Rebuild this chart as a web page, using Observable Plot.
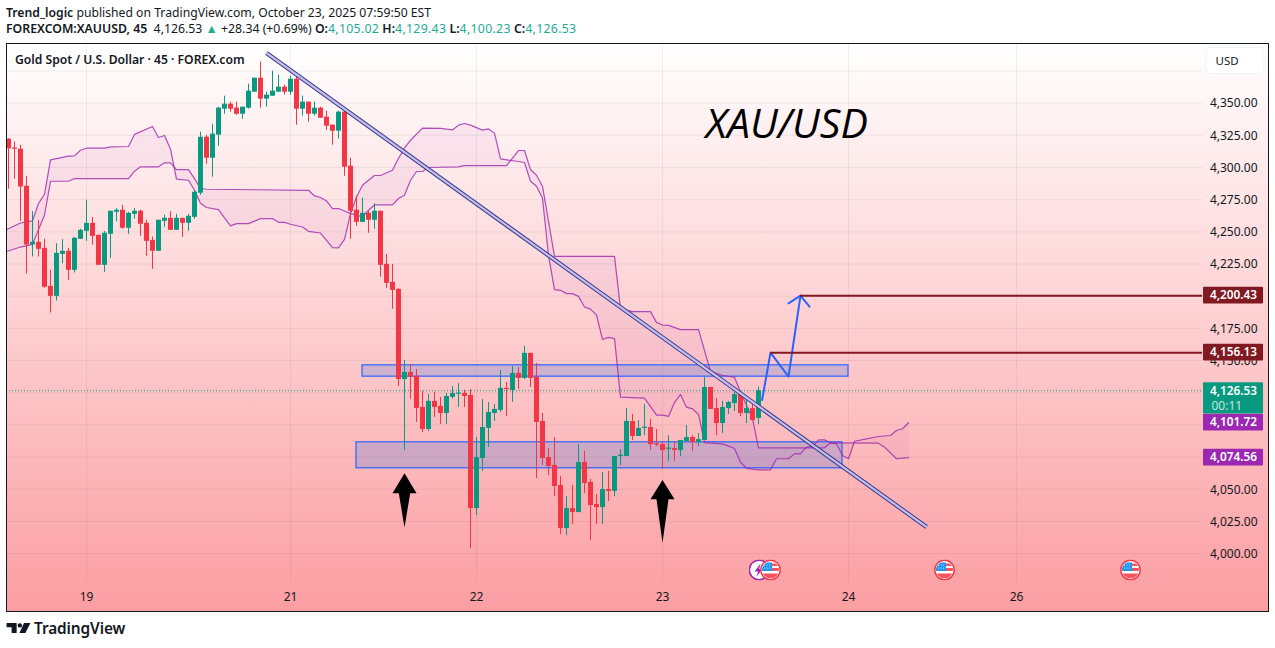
<!DOCTYPE html>
<html><head><meta charset="utf-8">
<script src="https://cdn.jsdelivr.net/npm/d3@7"></script>
<script src="https://cdn.jsdelivr.net/npm/@observablehq/plot@0.6"></script>
<style>
html,body{margin:0;padding:0;background:#fff;width:1275px;height:648px;overflow:hidden;font-family:"Noto Sans",sans-serif;color:#131722}
#head{height:43px;position:relative}
#head div{position:absolute;left:6px;white-space:nowrap;line-height:16px}
#l1{top:5px;font-size:12.2px}#l2{top:21px;font-size:12.3px}
#head b{font-weight:600}
#head .g{color:#22ab94;letter-spacing:.3px}
#head .t{color:#22ab94}
#chart svg{display:block}
#foot{position:absolute;left:6px;top:619px;display:flex;align-items:center;height:18px;font-size:15.4px;font-weight:600;letter-spacing:-.1px}
#foot svg{margin-right:3px}
</style></head><body>
<div id="head">
<div id="l1"><b>Trend_logic</b> published on TradingView.com, October 23, 2025 07:59:50 EST</div>
<div id="l2"><b>FOREXCOM:XAUUSD, 45</b>&nbsp; 4,126.53 <span class="t">▲</span> +28.34 (+0.69%) <b>O:</b><span class="g">4,105.02</span> <b>H:</b><span class="g">4,129.43</span> <b>L:</b><span class="g">4,100.23</span> <b>C:</b><span class="g">4,126.53</span></div>
</div>
<div id="chart"></div>
<div id="foot"><svg width="25" height="11" viewBox="0 0 26 12"><path fill="#131722" d="M0 0H11V11H5.5V4.5H0Z"/><circle cx="14.5" cy="2.6" r="2.4" fill="#131722"/><path fill="#131722" d="M19 0H26L20.5 11H14Z"/></svg>TradingView</div>
<script>
const opens=[4322,4315.2,4314.2,4285.4,4239.8,4241.9,4237.2,4207.6,4199.9,4232.5,
4234.9,4220.1,4244.2,4250.4,4256.6,4247.3,4224,4248.1,4265.2,4266.8,
4252.8,4263.6,4266,4256.6,4243.4,4234.9,4258.2,4260.5,4251.2,4260.5,
4256.6,4261.3,4280,4323.5,4307.2,4325.1,4345.3,4349.2,4346.1,4341.4,
4346.1,4358.5,4369.4,4353.1,4355.4,4358.5,4362.4,4358.5,4368.6,4345.3,
4350.8,4341.4,4346.1,4339.1,4332.9,4328.2,4343,4301,4266.8,4257.4,
4264.4,4259,4266,4224.8,4210.8,4205.3,4135.3,4140.8,4137.7,4113.6,
4096.5,4118.3,4114.4,4108.9,4121.4,4123.8,4124.5,4122.9,4035,4073.9,
4097.3,4108.9,4111.3,4128.4,4126.8,4140,4136.1,4155.6,4136.9,4102.7,
4074.7,4068.5,4052.9,4019.5,4035,4031.9,4070.8,4055.3,4038.1,4035.8,
4049.8,4048.3,4075.5,4075.5,4102.6,4091,4097.2,4098,4085.3,4084.7,
4081,4081.6,4080.1,4087.1,4090.2,4086.3,4087.9,4129.1,4112.7,4101.1,
4112.7,4116.6,4124.2,4108.9,4112.7,4105.02];
const closes=[4314.5,4314.2,4284.9,4239.8,4241.9,4236.4,4206.9,4199.9,4233.3,4234.9,
4220.1,4245,4251.2,4256.6,4246.5,4224,4248.9,4266,4266.8,4252.8,
4264.4,4266,4255.9,4242.6,4234.9,4259,4260.5,4251.2,4260.5,4256.6,
4262.1,4280.8,4323.5,4307.2,4325.9,4346.1,4349.2,4345.3,4341.4,4346.9,
4359.3,4369.4,4353.1,4356.2,4359.3,4362.4,4358.5,4368.6,4345.3,4350.8,
4341.4,4346.1,4338.3,4332.1,4328.2,4343,4300.2,4266,4257.4,4264.4,
4259,4266,4224,4210,4204.5,4135.3,4140.8,4136.9,4112.8,4096.5,
4118.3,4113.6,4108.9,4122.1,4124.5,4124.8,4122.1,4035,4074.7,4098,
4109.7,4112,4128.4,4127.4,4140,4136.1,4155.6,4136.1,4101.9,4073.9,
4067.7,4052.1,4019.5,4035,4031.9,4070.8,4054.5,4037.4,4035.8,4049.8,
4048.3,4075.5,4076.5,4102.7,4091,4097.2,4098.2,4084.7,4084.3,4080.1,
4082,4080.1,4087.9,4090.2,4086.3,4088.6,4129.1,4112,4101.1,4113.5,
4117.4,4123.6,4108.9,4112.7,4103.4,4126.53];
const highs=[4322.5,4319.9,4317.3,4293.2,4265.7,4258.7,4244.2,4220.1,4240.8,4243.9,
4237.2,4245.5,4252,4274.5,4261.1,4247.3,4250.2,4266,4268.1,4270.6,
4265.2,4268.1,4266.8,4259,4245.8,4259,4262.9,4265.7,4263.6,4260.5,
4263.6,4282.3,4327.4,4325.1,4333.6,4346.9,4355.4,4350.8,4350.8,4346.9,
4364.8,4369.4,4381.9,4358.5,4374.9,4371.8,4364,4371,4372.5,4355.4,
4350.8,4350.8,4346.9,4343.8,4332.9,4343.8,4343.8,4307.2,4277.6,4276.1,
4266,4271.9,4266,4232.5,4224.8,4205.8,4150.1,4147,4143.1,4126,
4123.7,4125.3,4121.4,4124.5,4129.9,4132.2,4126.8,4127.6,4090.2,4119.8,
4117.5,4115.9,4142.4,4133,4145.5,4144.7,4161,4155.6,4147.8,4108.9,
4081.7,4090.2,4059.9,4044.3,4052.9,4084.8,4079.4,4057.6,4045.9,4063,
4063.8,4075.5,4080.9,4112.8,4108.1,4103.4,4115.9,4104.2,4096.4,4087.1,
4091.7,4086.3,4087.9,4099.5,4091.7,4093.3,4136.9,4129.1,4120.5,4118.2,
4118.2,4125.2,4125.2,4120.5,4116.6,4129.43];
const lows=[4283.1,4290.9,4258.2,4217.2,4230.5,4230.5,4206.3,4186.9,4196.2,4225.3,
4212.3,4218,4244.2,4242.6,4239.5,4224,4218.5,4229.4,4257.9,4252,
4248.1,4259.8,4246.5,4231,4220.9,4234.9,4253.5,4251.2,4251.2,4245.8,
4250.4,4259.8,4278.4,4302.5,4292.4,4316.5,4341.4,4343,4340.6,4337.5,
4345.3,4358.5,4346.1,4346.9,4355.4,4358.5,4356.2,4356.2,4332.9,4339.9,
4335.2,4339.9,4338.3,4329,4317.3,4322,4293.2,4244.2,4254.3,4257.4,
4248.9,4252,4214.6,4206.1,4189.8,4129.9,4080.1,4119.8,4101.9,4094.1,
4094.9,4105.8,4100.4,4100.4,4119.8,4113.6,4113.6,4003.9,4029.6,4063.8,
4082.5,4102.7,4109.7,4106.6,4117.5,4127.6,4135.3,4129.1,4058.4,4068.5,
4060.7,4044.3,4014.8,4014,4022.6,4031.9,4046.7,4010.1,4022.6,4022.6,
4040.5,4044.3,4068.5,4075.5,4087.9,4091,4091.7,4080.1,4083.2,4065.3,
4071.5,4071.5,4075.4,4087.1,4079.3,4083.2,4087.9,4112,4091.7,4093.3,
4108.1,4110.4,4106.5,4101.1,4103.4,4100.23];

const spanAIdx=[-0.2,2,4,5,6,7,10,11,12,13,16,17,20,21,24,25,26,27,28,30,31,32,33,35,36,37,38,40,42,44,45,46,47,49,50,52,53,54,55,56,57,58,59,60,61,62,64,65,66,67,69,72,74,75,76,77,79,80,81,82,86,87,88,89,90,91,92,93,94,95,96,97,98,99,100,101,102,106,108,109,110,111,112,113,114,115,116,119,121,122,123,125,127,128,130,131,132,133,134,135,136,137,138,145,146,148,150];
const spanAVal=[4252,4256.9,4258.5,4272,4279.2,4305.9,4308.8,4309,4313.4,4315,4315,4316,4316.3,4325.7,4331.9,4323.3,4324.9,4314.2,4290.9,4290.1,4282.3,4272.2,4268.9,4267.3,4260.8,4254.6,4256.4,4256.4,4260.3,4260.3,4257.4,4257.4,4255.9,4253.8,4250.4,4249.1,4243.4,4237.8,4237.5,4244.2,4264.2,4277.1,4286.2,4290.1,4293.8,4293.8,4297.9,4307.2,4315,4321.2,4330.6,4330.4,4329.2,4332.9,4334.2,4332.9,4329,4330,4326.7,4306.7,4303.9,4289.3,4285.4,4276.1,4231.8,4205.1,4204.6,4202,4202,4199.9,4191.6,4190,4185.3,4166.4,4168,4167,4121.6,4120.8,4107.6,4107.6,4106.6,4117.4,4123.7,4113.8,4112.5,4108.1,4086.3,4085.3,4081.7,4071,4066.3,4065.1,4065.1,4073.7,4073.7,4077.5,4077.5,4082.7,4083.2,4088.4,4088.4,4086.1,4086.1,4085.8,4082.7,4073.7,4074.56];
const spanBIdx=[-0.2,2,4,6,7,10,11,20,21,22,25,26,27,28,30,31,32,33,50,51,52,53,54,55,56,57,59,60,61,64,65,66,67,68,69,70,75,76,83,85,86,87,88,89,91,101,102,104,107,108,109,110,112,115,117,119,121,122,124,125,136,137,138,139,140,141,143,145,147,148,149,150];
const spanBVal=[4234.9,4238.2,4240.3,4262.9,4289.3,4289.3,4291.4,4291.4,4297.1,4300.5,4300.5,4303.6,4303.6,4298.4,4298.4,4291.4,4283.7,4283.1,4282.3,4277.9,4276.7,4274,4268.1,4268.1,4266.2,4264.2,4261.6,4266.8,4270.9,4270.9,4275.9,4278.4,4290.1,4296.9,4296.9,4300,4300.5,4301.5,4301.5,4313.2,4313.2,4298.4,4294,4285.4,4231,4231,4190.3,4188,4188,4179.7,4177.6,4177.3,4174,4174,4141.6,4138.4,4137.1,4125.5,4105,4082.2,4082.2,4086.1,4085.3,4076.2,4073.7,4087.3,4089.2,4091,4091.8,4095.7,4097,4101.72];

const trendIdx=[43,153], trendVal=[4389,4020.7];
const zoneIdx=[[59,140],[58,139]], zoneVal=[[4146.3,4137.5],[4086.5,4066.3]];
const pathIdx=[125.6,127,130,132], pathVal=[4119.4,4156.13,4137.5,4200.43];
const headIdx=[130,132,133.5], headVal=[4194.5,4200.43,4191.9];
const arrowIdx1=[66,68,66.95,66,65.05,64], arrowVal1=[4062.4,4046.9,4046.9,4020.4,4046.9,4046.9];
const arrowIdx2=[109,111,110,109,108,107], arrowVal2=[4057.2,4042.2,4042.2,4008.5,4042.2,4042.2];
const levelVals=[4200.43,4156.13], levelStarts=[132,127];
const gridPrices=[4000,4025,4050,4075,4100,4125,4150,4175,4200,4225,4250,4275,4300,4325,4350,4375];
const tickPrices=[4000,4025,4050,4150,4175,4225,4250,4275,4300,4325,4350];
const dateIdx=[13,47,78,109,140,168], dateLabels=["19","21","22","23","24","26"];
const flagIdx=[127,156,187], eventVal=3987.3, ecbIdx=[125.1];
const lastPrice=4126.53;
const tagVals=[4200.43,4156.13,4101.72,4074.56], tagFills=["#801922","#801922","#9c27b0","#9c27b0"];

const GREEN="#089981", RED="#f23645", PURPLE="#9c27b0";
const pts=(xs,ys)=>xs.map((x,i)=>({x,y:ys[i]}));
const bars=opens.map((o,i)=>({i,o,c:closes[i],h:highs[i],l:lows[i],col:closes[i]>=o?GREEN:RED}));
const cloud=[...pts(spanAIdx,spanAVal),...pts(spanBIdx,spanBVal).reverse()];
const fmt=d3.format(",.2f");
const xLeft=-1/3, xGridEnd=199, tagL=199.17, tagR=209.17, tagMid=204.17;

const flagSvg=`<svg xmlns="http://www.w3.org/2000/svg" width="42" height="42" viewBox="0 0 42 42"><defs><clipPath id="c"><circle cx="21" cy="21" r="17"/></clipPath></defs><circle cx="21" cy="21" r="19.5" fill="#fff" stroke="#f23645" stroke-width="3"/><g clip-path="url(#c)"><rect x="4" y="4" width="34" height="34" fill="#fff"/><rect x="4" y="17" width="34" height="6" fill="#f7525f"/><rect x="4" y="28" width="34" height="10" fill="#f7525f"/><rect x="22" y="8" width="16" height="5" fill="#f7525f"/><rect x="4" y="6" width="20" height="17" fill="#2196f3"/><g fill="#fff"><circle cx="9" cy="11" r="1"/><circle cx="14" cy="11" r="1"/><circle cx="19" cy="11" r="1"/><circle cx="9" cy="17" r="1"/><circle cx="14" cy="17" r="1"/><circle cx="19" cy="17" r="1"/></g></g></svg>`;
const flagUri="data:image/svg+xml,"+encodeURIComponent(flagSvg);
const ecbSvg=`<svg xmlns="http://www.w3.org/2000/svg" width="42" height="42" viewBox="0 0 42 42"><circle cx="21" cy="21" r="19.5" fill="#fff" stroke="#9c27b0" stroke-width="3"/><path fill="#9c27b0" d="M24 8L12 24h7l-3 10 12-15h-7z"/></svg>`;
const ecbUri="data:image/svg+xml,"+encodeURIComponent(ecbSvg);

const chart=Plot.plot({
  width:1275,height:569,
  marginLeft:6,marginRight:7,marginTop:0,marginBottom:1,
  x:{domain:[xLeft,210]},
  y:{domain:[3955.04,4396.34]},
  style:{background:"transparent",fontFamily:'"Noto Sans",sans-serif'},
  marks:[
    ()=>d3.create("svg:defs").html('<linearGradient id="bg" x1="0" y1="0" x2="0" y2="1"><stop offset="0" stop-color="#ffffff"/><stop offset="1" stop-color="#fb9ea2"/></linearGradient>').node(),
    Plot.frame({fill:"url(#bg)",stroke:"none"}),
    Plot.ruleY(gridPrices,{x1:xLeft,x2:xGridEnd,stroke:"#2a2e39",strokeOpacity:.07}),
    Plot.ruleX(dateIdx,{y1:3978,y2:4396.34,stroke:"#2a2e39",strokeOpacity:.07}),
    Plot.axisX(dateIdx,{anchor:"bottom",tickSize:0,tickPadding:0,lineAnchor:"middle",dy:-14.5,fontSize:12,fill:"#131722",label:null,tickFormat:d=>dateLabels[dateIdx.indexOf(d)]}),
    Plot.axisY(tickPrices,{anchor:"right",tickSize:0,tickPadding:0,textAnchor:"end",dx:-11,dy:0.5,fontSize:12,fill:"#131722",label:null,tickFormat:fmt}),
    Plot.line(cloud,{x:"x",y:"y",fill:PURPLE,fillOpacity:.055,stroke:"none"}),
    Plot.rect(zoneIdx.map((z,i)=>({x1:z[0],x2:z[1],y1:zoneVal[i][0],y2:zoneVal[i][1]})),{x1:"x1",x2:"x2",y1:"y1",y2:"y2",fill:"#5f7fd8",fillOpacity:.3,stroke:"#2962ff",strokeWidth:1.2}),
    Plot.line(pts(spanAIdx,spanAVal),{x:"x",y:"y",stroke:PURPLE,strokeOpacity:.8,strokeWidth:1.2}),
    Plot.line(pts(spanBIdx,spanBVal),{x:"x",y:"y",stroke:PURPLE,strokeOpacity:.8,strokeWidth:1.2}),
    Plot.ruleY([lastPrice],{x1:xLeft,x2:xGridEnd,stroke:GREEN,strokeDasharray:"1,2"}),
    Plot.ruleX(bars,{x:"i",y1:"l",y2:"h",stroke:"col",strokeWidth:1}),
    Plot.ruleX(bars,{x:"i",y1:"o",y2:"c",stroke:"col",strokeWidth:5}),
    Plot.line(pts(trendIdx,trendVal),{x:"x",y:"y",stroke:"#33318a",strokeWidth:4.2,strokeLinecap:"butt"}),
    Plot.line(pts(trendIdx,trendVal),{x:"x",y:"y",stroke:"#c4bfe8",strokeWidth:2.3,strokeLinecap:"butt"}),
    Plot.line(pts(pathIdx,pathVal),{x:"x",y:"y",stroke:"#2962ff",strokeWidth:2}),
    Plot.line(pts(headIdx,headVal),{x:"x",y:"y",stroke:"#2962ff",strokeWidth:2}),
    Plot.line(pts(arrowIdx1,arrowVal1),{x:"x",y:"y",fill:"#000",stroke:"none"}),
    Plot.line(pts(arrowIdx2,arrowVal2),{x:"x",y:"y",fill:"#000",stroke:"none"}),
    Plot.ruleY(levelVals,{x1:(d,i)=>levelStarts[i],x2:xGridEnd,stroke:"#801922",strokeWidth:2}),
    Plot.image(ecbIdx,{x:d=>d,y:()=>eventVal,src:()=>ecbUri,width:21,height:21}),
    Plot.image(flagIdx,{x:d=>d,y:()=>eventVal,src:()=>flagUri,width:21,height:21}),
    Plot.rect(tagVals,{x1:()=>tagL,x2:()=>tagR,y1:d=>d+6.5,y2:d=>d-6.5,fill:(d,i)=>tagFills[i],rx:1}),
    Plot.rect([lastPrice],{x1:()=>tagL,x2:()=>tagR,y1:()=>4132.8,y2:()=>4108.5,fill:GREEN,rx:1}),
    Plot.text(tagVals.concat([lastPrice]),{x:()=>tagMid,y:d=>d,text:fmt,fill:"#fff",fontSize:11.8,fontWeight:600}),
    Plot.text(["00:11"],{x:()=>200.5,y:()=>4114.3,text:d=>d,textAnchor:"start",fill:"#c5e8df",fontSize:12}),
    Plot.rect(["USD"],{x1:()=>199.67,x2:()=>209.33,y1:()=>4392.85,y2:()=>4372.65,fill:"#fff",stroke:"#f0f3fa",rx:4}),
    Plot.text(["USD"],{x:()=>199.67,y:()=>4382.2,dx:9,text:d=>d,textAnchor:"start",fontSize:11.5,fill:"#131722"}),
    Plot.text(["Gold Spot / U.S. Dollar · 45 · FOREX.com"],{frameAnchor:"top-left",dx:8.5,dy:11.5,lineAnchor:"top",text:d=>d,fontSize:12.15,fontWeight:600,fill:"#131722"}),
    Plot.text(["XAU/USD"],{x:()=>129.7,y:()=>4333,text:d=>d,fontSize:41,fontStyle:"italic",fontFamily:'"Open Sans",sans-serif',fill:"#000"}),
    Plot.frame({stroke:"#131722",strokeWidth:1})
  ]
});
document.getElementById("chart").appendChild(chart);
</script>
</body></html>
